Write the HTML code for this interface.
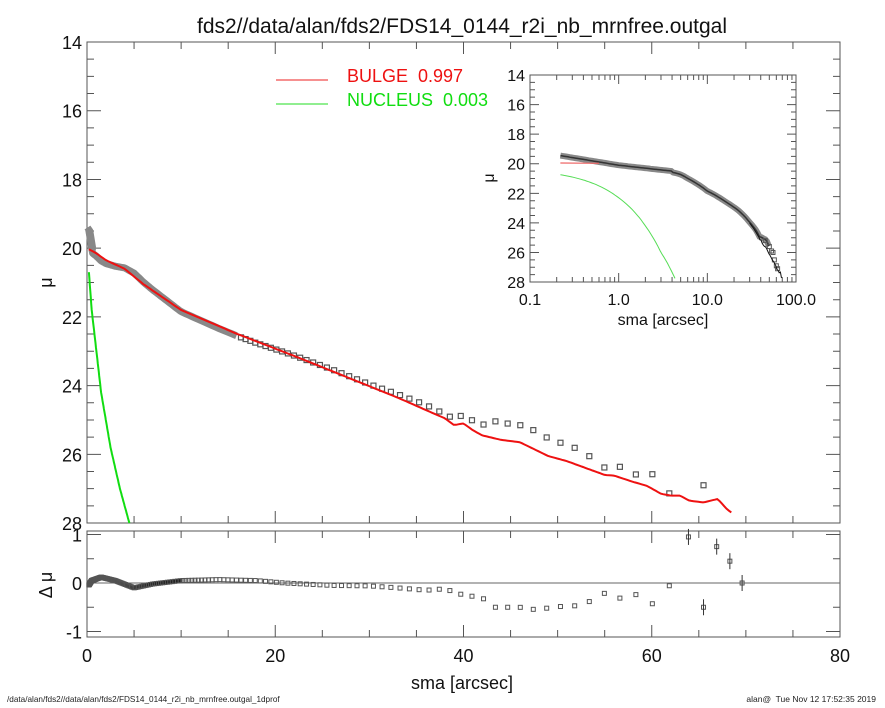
<!DOCTYPE html>
<html><head><meta charset="utf-8"><style>
body{margin:0;background:#fff}
svg{display:block;font-family:"Liberation Sans",sans-serif}
</style></head><body>
<svg id="s" width="885" height="708" xmlns="http://www.w3.org/2000/svg"></svg>
<script>
const S=document.getElementById('s');let h='';
const X=s=>87+s*9.4125, Y=m=>42+(m-14)*34.36, R=d=>583-d*48.5;
const IX=s=>530+(Math.log10(s)+1)*88.67, IY=m=>75+(m-14)*14.79;
function interp(t,x){if(x<=t[0][0])return t[0][1];for(let i=1;i<t.length;i++)if(x<=t[i][0]){const a=t[i-1],b=t[i];return a[1]+(b[1]-a[1])*(x-a[0])/(b[0]-a[0]);}return t[t.length-1][1];}
const model=[[0,20.0],[1,20.15],[2,20.35],[4,20.6],[6,21.05],[10,21.8],[16,22.5],[22.6,23.2],[33,24.35],[38,24.95],[39,25.15],[40,25.1],[41,25.3],[42,25.45],[44,25.58],[46,25.65],[49,26.05],[51,26.2],[53,26.4],[55,26.6],[56,26.62],[58,26.8],[59.5,26.92],[61,27.15],[62,27.2],[63,27.2],[64,27.35],[65.5,27.4],[67,27.3],[68,27.6],[70,28.0]];
const nuc=[[0.2,20.7],[0.6,21.5],[1,22.3],[2,24.2],[3,26.0],[4.5,28.0]];
const nucMain=[[0.2,20.7],[0.5,21.8],[1,23.0],[1.5,24.2],[2.5,25.8],[3.5,27],[4.5,28]];
const res=[[0,-0.1],[0.5,0.05],[1.5,0.12],[3,0.05],[5,-0.1],[7,-0.02],[10,0.05],[14,0.07],[18,0.05],[21,0],[26,-0.05],[30,-0.06],[33,-0.1],[36,-0.15],[38,-0.12],[40,-0.25],[42,-0.3],[43,-0.5],[46,-0.5],[47,-0.55],[50,-0.5],[51,-0.45],[53,-0.5],[54,-0.18],[56,-0.25],[57,-0.35],[58,-0.12],[59,-0.5],[60,-0.45],[61,-0.1],[62,-0.05]];
const M=s=>interp(model,s), N=s=>interp(nuc,s);
function axis(){
 h+='<g stroke="#555" stroke-width="1" fill="none"><rect x="87" y="42" width="753" height="481"/><rect x="87" y="531" width="753" height="106"/></g>';
 let t='';
 for(let i=0;i<=16;i++){const x=X(i*5),L=i%4==0?12:7;t+=`M${x} 523v-${L}M${x} 42v${L}M${x} 637v-${L}M${x} 531v${L}`;}
 for(let m=14;m<=28;m+=0.5){const y=Y(m),L=m%2==0?14:7;t+=`M87 ${y}h${L}M840 ${y}h-${L}`;}
 for(let d=-1;d<=1;d+=0.5){const y=R(d),L=d%1==0?14:7;t+=`M87 ${y}h${L}M840 ${y}h-${L}`;}
 h+=`<path d="${t}" stroke="#555" stroke-width="1"/>`;
 h+=`<line x1="87" y1="${R(0)}" x2="840" y2="${R(0)}" stroke="#666"/>`;
 let tx='';for(let m=14;m<=28;m+=2)tx+=`<text x="82" y="${Y(m)+7}" text-anchor="end">${m}</text>`;
 tx+=`<text x="82" y="${R(1)+7}" text-anchor="end">1</text><text x="82" y="${R(0)+7}" text-anchor="end">0</text><text x="82" y="${R(-1)+7}" text-anchor="end">-1</text>`;
 for(let s=0;s<=80;s+=20)tx+=`<text x="${X(s)}" y="662" text-anchor="middle">${s}</text>`;
 h+=`<g font-size="18" fill="#111">${tx}<text x="462" y="689" text-anchor="middle">sma [arcsec]</text><text x="52" y="${Y(21)}" text-anchor="middle" transform="rotate(-90 52 ${Y(21)})">μ</text><text x="52" y="585" text-anchor="middle" transform="rotate(-90 52 585)">Δ μ</text></g>`;
 h+=`<text x="462" y="33" text-anchor="middle" font-size="21" fill="#111">fds2//data/alan/fds2/FDS14_0144_r2i_nb_mrnfree.outgal</text>`;
 h+=`<text x="7" y="702" font-size="8.2" fill="#222">/data/alan/fds2//data/alan/fds2/FDS14_0144_r2i_nb_mrnfree.outgal_1dprof</text><text x="876" y="702" font-size="8.5" fill="#222" text-anchor="end">alan@&#160; Tue Nov 12 17:52:35 2019</text>`;
 h+=`<line x1="276" y1="80" x2="328" y2="80" stroke="#e22"/><text x="347" y="82" font-size="18" fill="#e11">BULGE&#160; 0.997</text><line x1="276" y1="104" x2="328" y2="104" stroke="#2d2"/><text x="347" y="106" font-size="18" fill="#1d1">NUCLEUS&#160; 0.003</text>`;
}
axis();
const pts=[];for(let s=0.2;s<=70;s*=1.03)pts.push(s);
const outer=[[63.9,0.95],[65.5,-0.5],[66.9,0.75],[68.3,0.45],[69.6,0.0]];
let thick='',sq='',rs='';
pts.forEach(s=>{const r=interp(res,s);const d=M(s)+r;
 if(s<16){thick+='L'+X(s).toFixed(1)+' '+Y(d-(s<0.6?0.5*(0.6-s)/0.4:0)).toFixed(1);}
 else if(s<63){sq+=`<rect x="${X(s)-2.5}" y="${Y(d)-2.5}" width="5" height="5"/>`;}
 if(s<10)rs+=`<rect x="${X(s)-2}" y="${R(r)-2}" width="4" height="4" fill="#222"/>`;
 else if(s<63)rs+=`<rect x="${X(s)-2}" y="${R(r)-2}" width="4" height="4"/>`;
});
outer.forEach(([s,r])=>{rs+=`<rect x="${X(s)-2}" y="${R(r)-2}" width="4" height="4"/><line x1="${X(s)}" y1="${R(r)-8}" x2="${X(s)}" y2="${R(r)+8}" stroke="#333"/>`;
 const d=M(s)+r; if(d<27.9)sq+=`<rect x="${X(s)-2.5}" y="${Y(d)-2.5}" width="5" height="5"/>`;});
h+=`<path d="M${X(0.05)} ${Y(19.4)}L${X(0.3)} ${Y(19.5)}L${X(0.6)} ${Y(20.0)}${thick}" stroke="#888" stroke-width="7" fill="none" stroke-linejoin="round"/>`;
h+=`<g fill="none" stroke="#555" stroke-width="1.2">${sq}</g>`;
h+=`<g fill="none" stroke="#555" stroke-width="1">${rs}</g>`;
let red='';for(let s=0.2;s<=68.6;s+=0.25)red+=(red?'L':'M')+X(s).toFixed(1)+' '+Y(M(s)).toFixed(1);
h+=`<path d="${red}" stroke="#e11" stroke-width="2" fill="none"/>`;
let gr='';for(let s=0.2;s<=4.5;s+=0.05)gr+=(gr?'L':'M')+X(s).toFixed(1)+' '+Y(interp(nucMain,s)).toFixed(1);
h+=`<path d="${gr}" stroke="#1d1" stroke-width="2" fill="none"/>`;
// inset
h+='<rect x="530" y="75" width="266" height="207" fill="#fff" stroke="#555"/>';
let it='';
for(let e=-1;e<2;e++)for(let k=1;k<10;k++){const x=IX(k*Math.pow(10,e));const L=k==1?9:5;it+=`M${x} 282v-${L}M${x} 75v${L}`;}
it+=`M${IX(100)} 282v-9`;
for(let m=14;m<=28;m+=0.5){const y=IY(m),L=m%2==0?9:5;it+=`M530 ${y}h${L}M796 ${y}h-${L}`;}
h+=`<path d="${it}" stroke="#555"/>`;
let itx='';for(let m=14;m<=28;m+=2)itx+=`<text x="525" y="${IY(m)+6}" text-anchor="end">${m}</text>`;
[['0.1',0.1],['1.0',1],['10.0',10],['100.0',100]].forEach(([l,v])=>itx+=`<text x="${IX(v)}" y="305" text-anchor="middle">${l}</text>`);
h+=`<g font-size="16" fill="#111">${itx}<text x="663" y="325" text-anchor="middle">sma [arcsec]</text><text x="494" y="178" text-anchor="middle" transform="rotate(-90 494 178)">μ</text></g>`;
const ID=s=>s<1?19.45+0.65*Math.log10(s/0.22)/Math.log10(1/0.22):(s<4?20.1+0.4*Math.log10(s)/Math.log10(4):M(s)+interp(res,s));
let ip='';for(let s=0.22;s<=50;s*=1.05)ip+=(ip?'L':'M')+IX(s).toFixed(1)+' '+IY(ID(s)).toFixed(1);
h+=`<path d="${ip}" stroke="#888" stroke-width="6" fill="none"/><path d="${ip}" stroke="#333" stroke-width="1.5" fill="none"/>`;
let isq='';[[45,25.2],[50,25.6],[53,25.9],[55,26.0],[57,26.5],[60,26.9],[62,27.1]].forEach(([s,m])=>isq+=`<rect x="${IX(s)-2}" y="${IY(m)-2}" width="4" height="4"/>`);
h+=`<g fill="none" stroke="#555">${isq}</g>`;
h+=`<path d="M${IX(0.22)} ${IY(19.95)}L${IX(0.6)} ${IY(19.97)}" stroke="#e66" stroke-width="1.2" fill="none"/>`;
let ib='';for(let s=30;s<=70;s*=1.03)ib+=(ib?'L':'M')+IX(s).toFixed(1)+' '+IY(M(s)).toFixed(1);
h+=`<path d="${ib}" stroke="#111" stroke-width="1" fill="none"/>`;
let ig='';for(let s=0.22;s<=4.5;s*=1.05)ig+=(ig?'L':'M')+IX(s).toFixed(1)+' '+IY(N(s)).toFixed(1);
h+=`<path d="${ig}" stroke="#5d5" stroke-width="1" fill="none"/>`;
S.innerHTML=h;
</script>
</body></html>
